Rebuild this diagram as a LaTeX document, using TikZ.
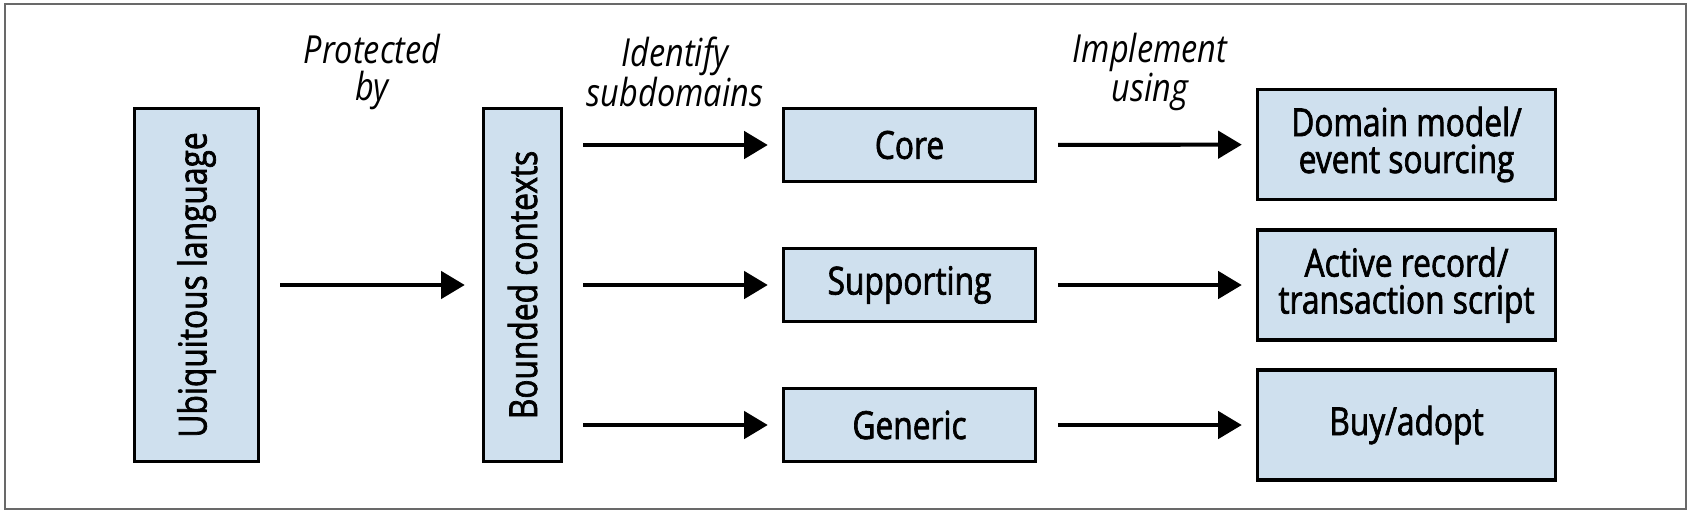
\documentclass[tikz,border=0pt]{standalone}
\usepackage{fontspec}
\setmainfont{Open Sans}[FakeStretch=0.84]
\newfontfamily\boxfont{Open Sans}[FakeStretch=0.82, FakeBold=1.8]
\usepackage{tikz}
\usetikzlibrary{arrows.meta,positioning}

\definecolor{boxblue}{RGB}{207,224,238}
\definecolor{framegray}{RGB}{105,105,105}

\tikzset{
  block/.style={draw=black, line width=2pt, fill=boxblue, align=center, inner sep=0pt,
    font=\boxfont\fontsize{22}{21}\selectfont},
  midbox/.style={block, minimum width=5.04cm, minimum height=1.46cm},
  endbox/.style={block, minimum width=5.96cm, minimum height=2.2cm},
  tag/.style={align=center, inner sep=0pt, font=\fontsize{22}{21}\selectfont\itshape},
  flow/.style={-{Triangle[length=13.5pt,width=15.5pt]}, line width=2.3pt},
  frame/.style={draw=framegray, line width=1.2pt},
}

\begin{document}
\begin{tikzpicture}[x=0.02cm, y=-0.02cm, auto]
		\useasboundingbox (0,0) rectangle (1690,514);
		\draw[frame] (5,4) rectangle (1686,509);

		\node[block, minimum width=2.48cm, minimum height=7.06cm] (ubiq) at (196.5,285) {\rotatebox{90}{Ubiquitous language}};
		\node[block, minimum width=1.56cm, minimum height=7.06cm] (bounded) at (522.5,285) {\rotatebox{90}{Bounded contexts}};

		\node[midbox] (core) at (909.5,145) {Core};
		\node[midbox] (supporting) at (909.5,285) {Supporting};
		\node[midbox] (generic) at (909.5,425) {Generic};

		\node[endbox] (domainmodel) at (1406.5,144.5) {Domain model/\\event sourcing};
		\node[endbox] (activerecord) at (1406.5,285) {Active record/\\transaction script};
		\node[endbox] (buyadopt) at (1406.5,425) {Buy/adopt};

		\node[tag] (protected) at (372,72) {Protected\\by};
		\node[tag] (identify) at (675,72) {Identify\\subdomains};
		\node[tag] (implement) at (1150,72) {Implement\\using};

		\draw [flow, shorten <=0.4cm, shorten >=0.34cm] (ubiq) to (bounded);
		\draw [flow, shorten <=0.4cm, shorten >=0.28cm] (bounded.east |- core) to (core);
		\draw [flow, shorten <=0.4cm, shorten >=0.28cm] (bounded.east |- supporting) to (supporting);
		\draw [flow, shorten <=0.4cm, shorten >=0.28cm] (bounded.east |- generic) to (generic);
		\draw [flow, shorten <=0.42cm, shorten >=0.28cm] (core) to (domainmodel);
		\draw [flow, shorten <=0.42cm, shorten >=0.28cm] (supporting) to (activerecord);
		\draw [flow, shorten <=0.42cm, shorten >=0.28cm] (generic) to (buyadopt);
		\end{tikzpicture}
\end{document}
